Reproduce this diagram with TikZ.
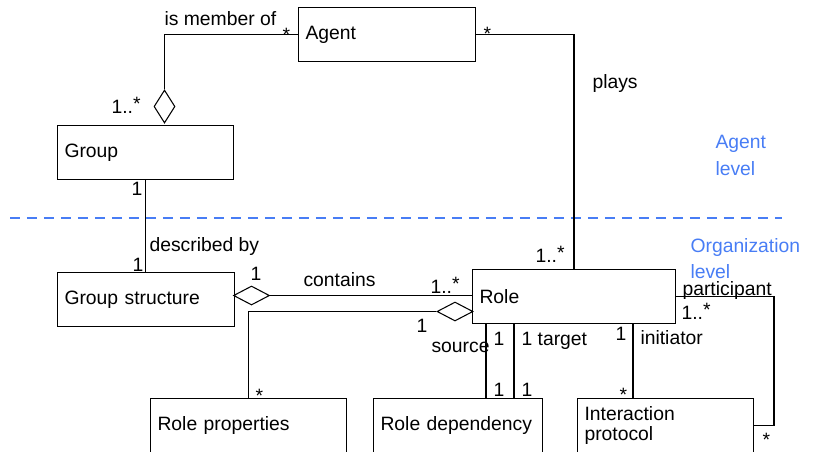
\documentclass[tikz,border=0pt]{standalone}
\usepackage{fontspec}
\setmainfont{Liberation Sans}
\usepackage{tikz}
\usetikzlibrary{shapes.geometric, calc}

\definecolor{levelblue}{RGB}{72,125,245}
\newcommand{\mstar}{\raisebox{1.7pt}{*}}

\tikzset{
    classbox/.style={draw, anchor=north west, minimum height=1.08cm, inner xsep=0.14cm, inner ysep=0pt, align=left, text width=#1},
    aggr/.style={draw, fill=white, diamond, inner sep=0pt},
    lbl/.style={inner sep=0pt, anchor=base west},
    levellbl/.style={inner sep=0pt, anchor=north west, align=left, text=levelblue, font=\fontsize{11}{15}\selectfont},
}

\begin{document}
\begin{tikzpicture}[x=0.02cm, y=-0.02cm, line width=0.6pt, font=\fontsize{11}{13}\selectfont]
    \useasboundingbox (0,0) rectangle (814,451);

    % classes
    \node[classbox=3.26cm] (agent) at (298,7) {Agent};
    \node[classbox=3.24cm] (group) at (57,125) {Group};
    \node[classbox=3.26cm] (gstruct) at (57,272) {Group structure};
    \node[classbox=3.78cm] (role) at (472,269) {Role};
    \node[classbox=3.64cm] (rprop) at (150,398) {Role properties};
    \node[classbox=3.10cm] (rdep) at (373,398) {Role dependency};
    \node[classbox=3.24cm, font=\fontsize{11}{11}\selectfont] (iproto) at (577,398) {Interaction\\protocol};

    % level separator
    \draw[levelblue, line width=1.4pt, dash pattern=on 0.2cm off 0.14cm] (10,218) -- (782,218);
    \node[levellbl] (aglevel) at (715,135) {Agent\\level};
    \node[levellbl] (orglevel) at (690,238) {Organization\\level};

    % is member of
    \node[aggr, minimum width=0.42cm, minimum height=0.66cm] (gdia) at (164.5,106.5) {};
    \draw (agent.west) -| (gdia.north);
    \node[lbl] (memb) at (164,25) {is member of};
    \node[lbl] (membm1) at (282,41) {*};
    \node[lbl] (membm2) at (111,113) {1..\mstar};

    % plays
    \draw (agent.east) -| (role.north);
    \node[lbl] (plays) at (592,88) {plays};
    \node[lbl] (playsm1) at (483,40) {*};
    \node[lbl] (playsm2) at (535,262) {1..\mstar};

    % described by
    \draw (group.south) -- (group.south |- gstruct.north);
    \node[lbl] (descr) at (149,251) {described by};
    \node[lbl] (descrm1) at (131,195) {1};
    \node[lbl] (descrm2) at (132,271) {1};

    % contains
    \node[aggr, minimum width=0.72cm, minimum height=0.38cm] (gsdia) at (251.5,295.5) {};
    \draw (gsdia.east) -- (gsdia.east -| role.west);
    \node[lbl] (cont) at (303,286) {contains};
    \node[lbl] (contm1) at (250,280) {1};
    \node[lbl] (contm2) at (430,293) {1..\mstar};

    % role properties
    \node[aggr, minimum width=0.72cm, minimum height=0.38cm] (rdia) at (455,311.5) {};
    \draw (rdia.west) -| (rprop.north);
    \node[lbl] (propm1) at (416,332) {1};
    \node[lbl] (propm2) at (255,402) {*};

    % role dependency
    \coordinate (src) at ($(role.south west)+(14,0)$);
    \coordinate (tgt) at ($(role.south west)+(42,0)$);
    \draw (src) -- (src |- rdep.north);
    \draw (tgt) -- (tgt |- rdep.north);
    \node[lbl] (source) at (431,352) {source};
    \node[lbl] (srcm1) at (493,345) {1};
    \node[lbl] (target) at (521,345) {1 target};
    \node[lbl] (srcm2) at (493,396) {1};
    \node[lbl] (tgtm2) at (521,396) {1};

    % interaction protocol
    \coordinate (init) at ($(role.south west)+(161,0)$);
    \draw (init) -- (init |- iproto.north);
    \node[lbl] (initiator) at (640,344) {initiator};
    \node[lbl] (initm1) at (615,340) {1};
    \node[lbl] (initm2) at (619,401) {*};
    \draw (role.east) -- ++(98,0) |- (iproto.east);
    \node[lbl] (partic) at (682,295) {participant};
    \node[lbl] (particm1) at (681,319) {1..\mstar};
    \node[lbl] (particm2) at (762,446) {*};
\end{tikzpicture}
\end{document}
